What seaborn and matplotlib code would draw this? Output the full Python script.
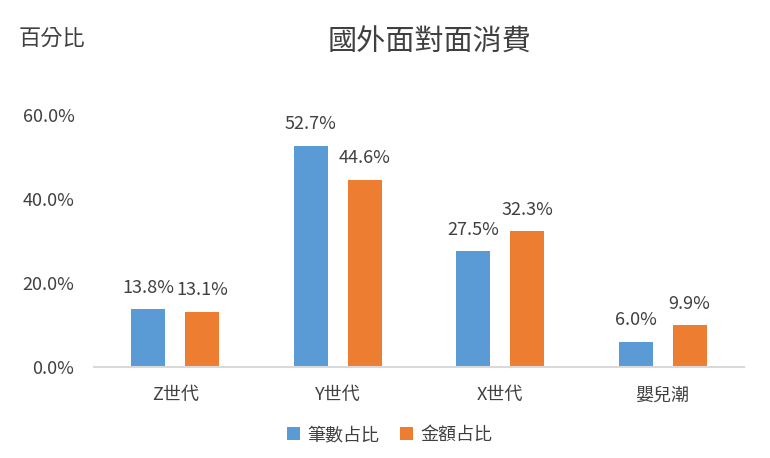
import matplotlib
matplotlib.use("Agg")
import matplotlib.pyplot as plt
import seaborn as sns
import pandas as pd
from matplotlib.ticker import PercentFormatter, FixedLocator

categories = ["Z世代", "Y世代", "X世代", "嬰兒潮"]
series_names = ["筆數占比", "金額占比"]
count_share = [13.8, 52.7, 27.5, 6.0]
amount_share = [13.1, 44.6, 32.3, 9.9]
title = "國外面對面消費"
ylabel = "百分比"
yticks = [0, 20, 40, 60]

colors = ["#5B9BD5", "#ED7D31"]
txt = "#404040"

df = pd.DataFrame({
    "cat": categories * 2,
    "series": [series_names[0]] * 4 + [series_names[1]] * 4,
    "val": count_share + amount_share,
})

sns.set_theme(style="white")
plt.rcParams["font.family"] = ["Noto Sans CJK TC", "DejaVu Sans"]

fig = plt.figure(figsize=(7.7, 4.58), dpi=100)
ax = fig.add_axes([0.122, 0.1987, 0.844, 0.5503])

sns.barplot(data=df, x="cat", y="val", hue="series", order=categories,
            hue_order=series_names, palette=colors, width=0.665, gap=0.37,
            ax=ax, legend=True, saturation=1, edgecolor="none")

for cont in ax.containers:
    ax.bar_label(cont, fmt="%.1f%%", padding=9, fontsize=13, color=txt)

ax.set_xlim(-0.5, 3.5)
ax.set_ylim(0, 60)
ax.yaxis.set_major_locator(FixedLocator(yticks))
ax.yaxis.set_major_formatter(PercentFormatter(decimals=1))
ax.set_xlabel("")
ax.set_ylabel("")
ax.tick_params(axis="both", length=0, labelsize=13, colors=txt)
ax.tick_params(axis="x", pad=14)
ax.tick_params(axis="y", pad=14)
for s in ["top", "right", "left"]:
    ax.spines[s].set_visible(False)
ax.spines["bottom"].set_color("#d9d9d9")
ax.spines["bottom"].set_linewidth(1.5)

fig.text(0.558, 0.907, title, ha="center", va="center", fontsize=21, color=txt)
fig.text(0.024, 0.917, ylabel, ha="left", va="center", fontsize=16, color=txt)

leg = ax.legend(loc="center", bbox_to_anchor=(0.455, -0.27), ncol=2, frameon=False,
                fontsize=13, handlelength=0.7, handleheight=0.7, handletextpad=0.4,
                columnspacing=1.2)
for t in leg.get_texts():
    t.set_color(txt)

fig.savefig("out.png", dpi=100)
